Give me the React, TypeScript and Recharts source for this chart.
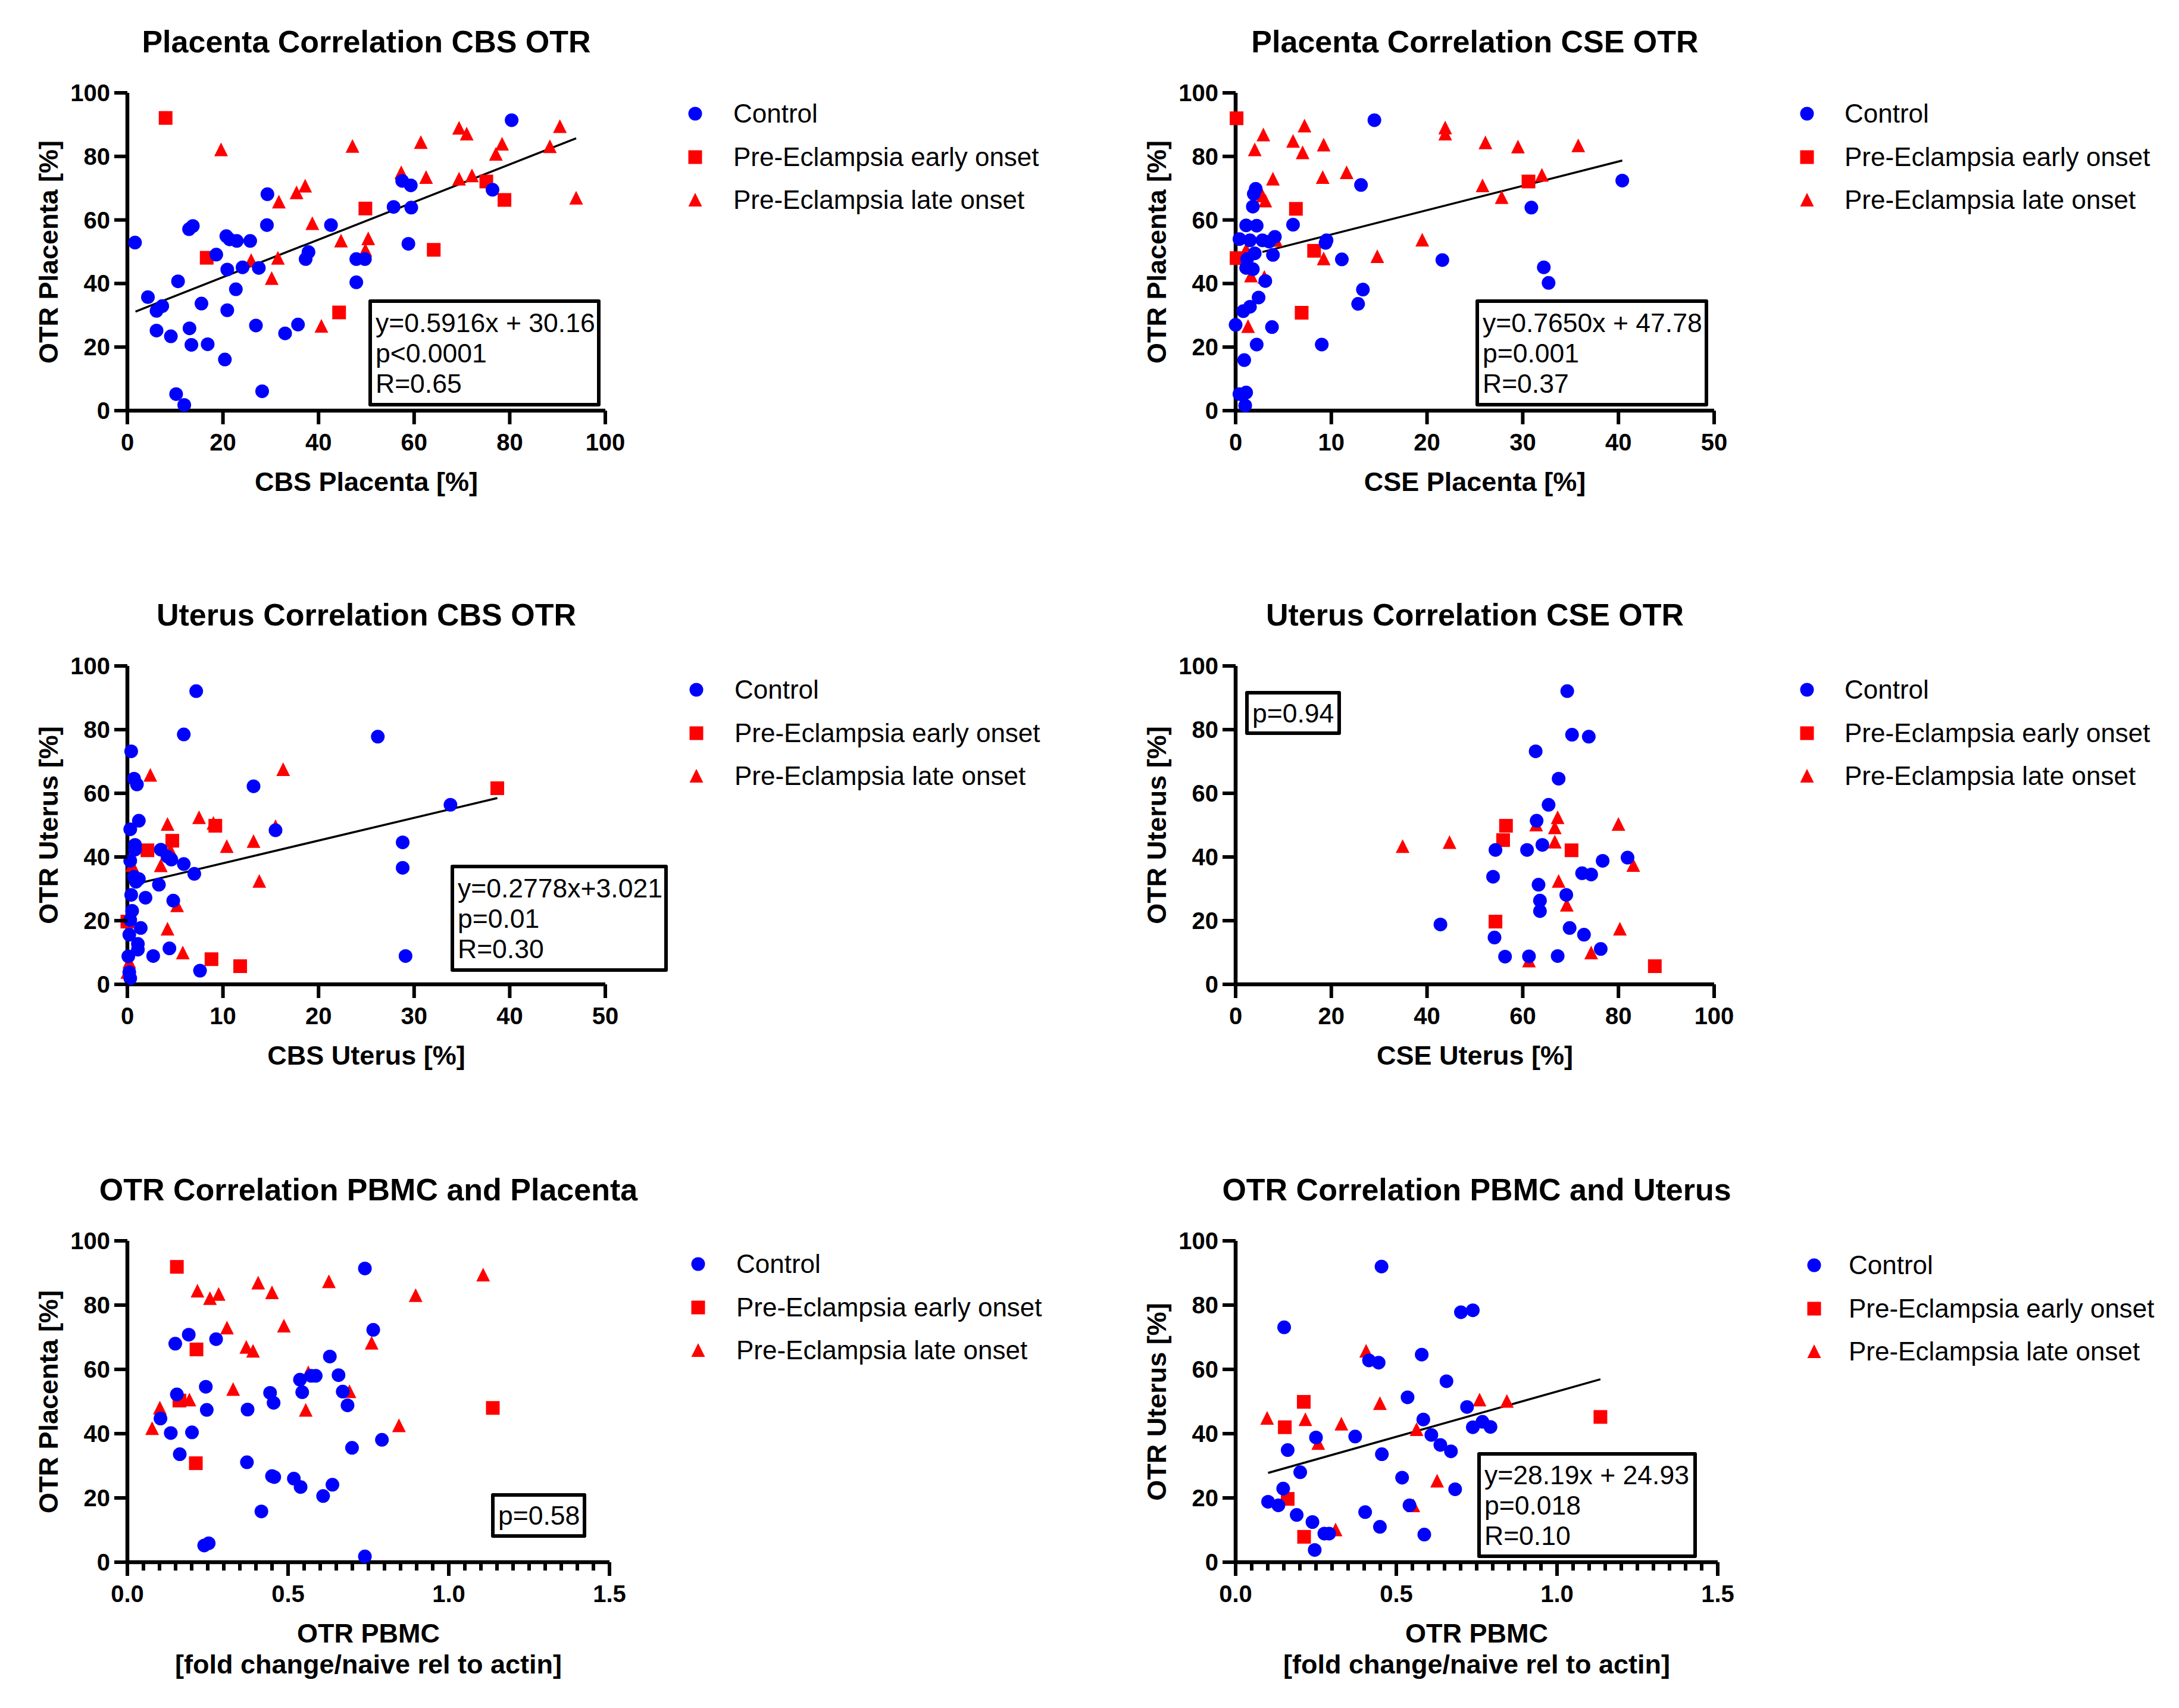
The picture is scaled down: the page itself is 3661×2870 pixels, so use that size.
import React from "react";
import { ScatterChart, Scatter, XAxis, YAxis, ReferenceLine } from "recharts";

const FONT = '"Liberation Sans", Arial, Helvetica, sans-serif';
const BLUE = "#0000ff";
const RED = "#ff0000";

type Pt = [number, number];

// Placenta, CBS vs OTR
const cbsPlacentaControl: Pt[] = [
  [1.6, 52.9], [4.3, 35.7], [6.1, 31.4], [7.3, 32.9], [6.1, 25.2], [9.1, 23.4], [10.6, 40.7], [10.2, 5.2],
  [11.9, 1.8], [12.9, 57.1], [13.7, 58.1], [13, 25.9], [13.4, 20.7], [15.5, 33.7], [16.8, 20.9], [18.6, 49.1],
  [20.4, 16.1], [20.7, 54.9], [21.4, 53.9], [22.9, 53.4], [25.7, 53.4], [20.9, 44.4], [20.9, 31.6], [22.7, 38.2],
  [24.1, 45.1], [27.5, 44.9], [26.9, 26.8], [28.2, 6.1], [29.3, 68.1], [29.2, 58.4], [33, 24.3], [35.7, 27.1],
  [37.3, 47.7], [37.9, 49.9], [42.6, 58.4], [47.9, 47.7], [49.7, 47.7], [47.9, 40.4], [55.7, 64.1], [57.5, 72.3],
  [59.3, 70.9], [59.4, 63.9], [58.8, 52.5], [76.4, 69.5], [80.4, 91.4],
];
const cbsPlacentaEarly: Pt[] = [
  [8, 92.1], [16.6, 48.1], [49.8, 63.6], [44.3, 30.9], [64.1, 50.6], [75.1, 72.1], [78.9, 66.3],
];
const cbsPlacentaLate: Pt[] = [
  [19.6, 82.1], [25.9, 47.3], [30.2, 41.6], [31.5, 48], [31.7, 65.7], [35.4, 68.6], [37.2, 70.7], [38.7, 58.9],
  [40.6, 26.6], [44.7, 53.4], [47.1, 83.2], [49.8, 50.5], [50.4, 54.1], [57.3, 74.9], [61.4, 84.4], [62.5, 73.4],
  [69.4, 88.9], [71, 87.1], [69.4, 72.9], [72.1, 73.9], [77.1, 80.7], [78.4, 83.9], [88.4, 83.1], [90.5, 89.4],
  [93.9, 66.9],
];

// Placenta, CSE vs OTR
const csePlacentaControl: Pt[] = [
  [14.5, 91.4], [13.1, 71], [40.4, 72.4], [30.9, 63.9], [2.1, 69.8], [1.9, 68.2], [1.8, 64.2], [1.1, 58.3],
  [2.2, 58.2], [6, 58.5], [0.4, 54], [1.5, 53.6], [2.8, 53.6], [3.5, 53.2], [4.1, 54.7], [2, 49.5], [3.9, 49],
  [9.4, 52.8], [9.5, 53.6], [11.1, 47.6], [21.6, 47.4], [1.2, 47.7], [1.1, 44.9], [1.8, 44.5], [32.2, 45.1],
  [32.7, 40.2], [3.1, 40.8], [13.3, 38.1], [12.8, 33.6], [2.4, 35.6], [1.5, 32.7], [0.8, 31.3], [0, 27],
  [3.8, 26.3], [2.2, 20.8], [9, 20.8], [0.9, 15.9], [0.4, 5.2], [1.1, 5.7], [1, 1.6],
];
const csePlacentaEarly: Pt[] = [[0.1, 92], [6.3, 63.5], [8.2, 50.3], [0.1, 48], [6.9, 30.8], [30.6, 72.1]];
const csePlacentaLate: Pt[] = [
  [2.9, 86.8], [2, 82.1], [7.2, 89.6], [6, 84.8], [7, 81.2], [9.2, 83.6], [3.9, 72.9], [9.1, 73.4], [11.6, 74.9],
  [3.1, 66], [2.8, 67.6], [4.2, 53.6], [1.1, 50.6], [9.2, 47.8], [14.8, 48.5], [19.5, 53.7], [1.6, 42.4], [3, 42],
  [1.3, 26.5], [21.9, 89], [21.9, 87.1], [25.8, 70.8], [27.8, 67.1], [32, 74.1], [26.1, 84.3], [29.5, 83],
  [35.8, 83.4],
];

// Uterus, CBS vs OTR
const cbsUterusControl: Pt[] = [
  [7.2, 92.1], [5.9, 78.5], [26.2, 77.8], [0.4, 73.2], [0.7, 64.6], [1, 62.8], [13.2, 62.2], [33.8, 56.4],
  [1.2, 51.4], [0.3, 48.7], [15.5, 48.4], [0.8, 43.8], [0.8, 42.3], [3.5, 42.3], [4.2, 40.1], [4.6, 39.2],
  [0.3, 38.8], [5.9, 37.8], [7, 34.7], [28.8, 44.6], [28.8, 36.6], [0.7, 33.8], [1.2, 33.1], [0.9, 32.2],
  [3.3, 31.3], [0.4, 28.1], [1.9, 27.2], [4.8, 26.3], [0.5, 23.1], [0.3, 20.2], [1.4, 17.7], [0.2, 15.6],
  [1.1, 12.7], [1.1, 10.9], [0.1, 8.8], [2.7, 8.9], [4.4, 11.3], [7.6, 4.3], [0.2, 3.8], [0.3, 1.9], [29.1, 8.9],
];
const cbsUterusEarly: Pt[] = [[38.7, 61.6], [9.2, 49.8], [4.7, 45.1], [2.1, 42.1], [0, 19.7], [8.8, 7.9], [11.8, 5.7]];
const cbsUterusLate: Pt[] = [
  [2.4, 65.7], [16.3, 67.5], [7.5, 52.4], [9, 50.6], [4.2, 50.3], [15.5, 49.6], [10.4, 43.3], [13.2, 44.9],
  [4.5, 42.1], [3.5, 37.3], [0.5, 37.4], [13.8, 32.4], [5.2, 24.7], [4.2, 17.4], [5.8, 9.9], [0.2, 7], [0, 3.8],
];

// Uterus, CSE vs OTR
const cseUterusControl: Pt[] = [
  [69.3, 92.1], [70.3, 78.4], [73.8, 77.8], [62.7, 73.2], [67.5, 64.6], [65.4, 56.4], [62.9, 51.4], [64.1, 43.8],
  [54.3, 42.2], [60.9, 42.2], [81.9, 39.8], [76.7, 38.8], [72.4, 34.9], [74.3, 34.5], [53.8, 33.8], [63.3, 31.3],
  [69.1, 28.1], [63.6, 26.3], [63.6, 23], [42.8, 18.8], [69.8, 17.7], [72.8, 15.6], [54.1, 14.7], [76.3, 11.1],
  [56.3, 8.7], [61.3, 8.8], [67.3, 8.9],
];
const cseUterusEarly: Pt[] = [[56.5, 49.8], [55.9, 45.3], [70.2, 42.1], [54.3, 19.7], [87.6, 5.7]];
const cseUterusLate: Pt[] = [
  [67.3, 52.4], [66.7, 49.2], [62.8, 50.1], [80, 50.3], [34.9, 43.3], [44.7, 44.6], [66.7, 44.7], [83.1, 37.4],
  [67.5, 32.4], [69.2, 24.9], [80.3, 17.4], [74.3, 9.9], [61.3, 7.4],
];

// PBMC vs placenta OTR
const pbmcPlacentaControl: Pt[] = [
  [0.739, 91.4], [0.765, 72.3], [0.149, 68], [0.191, 70.8], [0.276, 69.4], [0.63, 64], [0.657, 58.2],
  [0.537, 56.8], [0.572, 58], [0.586, 58], [0.244, 54.6], [0.154, 52.2], [0.444, 52.7], [0.544, 52.9],
  [0.455, 49.6], [0.67, 53.1], [0.685, 48.8], [0.247, 47.4], [0.374, 47.5], [0.103, 44.7], [0.135, 40.2],
  [0.201, 40.4], [0.792, 38.1], [0.699, 35.6], [0.163, 33.6], [0.372, 31.1], [0.45, 26.8], [0.457, 26.5],
  [0.518, 26], [0.539, 23.4], [0.638, 24.1], [0.609, 20.6], [0.417, 15.8], [0.239, 5.2], [0.253, 5.9],
  [0.739, 1.8],
];
const pbmcPlacentaEarly: Pt[] = [[0.154, 91.9], [0.215, 66.2], [0.162, 50.3], [0.213, 30.8], [1.137, 48]];
const pbmcPlacentaLate: Pt[] = [
  [1.107, 89.4], [0.627, 87.3], [0.407, 86.9], [0.218, 84.4], [0.257, 82.1], [0.284, 83.4], [0.45, 83.9],
  [0.897, 83], [0.487, 73.5], [0.31, 72.9], [0.37, 66.9], [0.391, 65.7], [0.76, 68.2], [0.563, 59],
  [0.329, 53.8], [0.691, 53.1], [0.193, 50.5], [0.101, 48], [0.555, 47.3], [0.077, 41.6], [0.845, 42.5],
];

// PBMC vs uterus OTR
const pbmcUterusControl: Pt[] = [
  [0.454, 92], [0.151, 73.1], [0.701, 77.8], [0.738, 78.4], [0.579, 64.6], [0.415, 62.8], [0.445, 62.1],
  [0.656, 56.3], [0.535, 51.3], [0.72, 48.3], [0.584, 44.4], [0.738, 42], [0.768, 43.7], [0.793, 42.1],
  [0.609, 39.6], [0.372, 39.1], [0.25, 38.8], [0.637, 36.5], [0.67, 34.5], [0.162, 34.9], [0.455, 33.6],
  [0.201, 28], [0.518, 26.3], [0.148, 22.9], [0.683, 22.7], [0.101, 18.8], [0.133, 17.7], [0.541, 17.7],
  [0.19, 14.7], [0.403, 15.6], [0.239, 12.5], [0.449, 11], [0.276, 8.9], [0.291, 8.9], [0.587, 8.6],
  [0.246, 3.8],
];
const pbmcUterusEarly: Pt[] = [[0.212, 49.9], [0.153, 42], [1.135, 45.2], [0.162, 19.7], [0.213, 7.9]];
const pbmcUterusLate: Pt[] = [
  [0.406, 65.7], [0.449, 49.4], [0.098, 44.8], [0.217, 44.4], [0.329, 43], [0.759, 50.5], [0.844, 50.1],
  [0.563, 41.3], [0.257, 37], [0.627, 25.3], [0.553, 17.6], [0.311, 10.1],
];

const yTicks = [0, 20, 40, 60, 80, 100];
const ticks100 = [0, 20, 40, 60, 80, 100];
const ticks50 = [0, 10, 20, 30, 40, 50];
const ticksPbmc = [0, 0.5, 1.0, 1.5];
const pbmcTickLabels = ["0.0", "0.5", "1.0", "1.5"];
const minorPbmc = Array.from({ length: 31 }, (_, i) => Math.round(i * 5) / 100);

const legendNames = ["Control", "Pre-Eclampsia early onset", "Pre-Eclampsia late onset"];

interface Trend {
  from: number;
  to: number;
  slope: number;
  intercept: number;
}

interface PanelDef {
  title: string;
  xLabel: string[];
  yLabel: string;
  control: Pt[];
  early: Pt[];
  late: Pt[];
  xMax: number;
  xTicks: number[];
  xTickLabels?: string[];
  minor?: number[];
  plot: { x0: number; x1: number; top: number; bottom: number };
  legend: { marker: number; text: number; y: number };
  trend?: Trend;
  stats: string[];
  box: { left: number; top: number; width: number; height: number };
}

const panels: PanelDef[] = [
  {
    title: "Placenta Correlation CBS OTR",
    xLabel: ["CBS Placenta [%]"],
    yLabel: "OTR Placenta [%]",
    control: cbsPlacentaControl,
    early: cbsPlacentaEarly,
    late: cbsPlacentaLate,
    xMax: 100,
    xTicks: ticks100,
    plot: { x0: 214, x1: 1017, top: 156, bottom: 690 },
    legend: { marker: 1168, text: 1232, y: 191 },
    trend: { from: 1.7, to: 93.9, slope: 0.5916, intercept: 30.16 },
    stats: ["y=0.5916x + 30.16", "p<0.0001", "R=0.65"],
    box: { left: 619, top: 503, width: 390, height: 180 },
  },
  {
    title: "Placenta Correlation CSE OTR",
    xLabel: ["CSE Placenta [%]"],
    yLabel: "OTR Placenta [%]",
    control: csePlacentaControl,
    early: csePlacentaEarly,
    late: csePlacentaLate,
    xMax: 50,
    xTicks: ticks50,
    plot: { x0: 2076, x1: 2880, top: 156, bottom: 690 },
    legend: { marker: 3036, text: 3099, y: 191 },
    trend: { from: 2.8, to: 40.4, slope: 0.765, intercept: 47.78 },
    stats: ["y=0.7650x + 47.78", "p=0.001", "R=0.37"],
    box: { left: 2479, top: 503, width: 391, height: 180 },
  },
  {
    title: "Uterus Correlation CBS OTR",
    xLabel: ["CBS Uterus [%]"],
    yLabel: "OTR Uterus [%]",
    control: cbsUterusControl,
    early: cbsUterusEarly,
    late: cbsUterusLate,
    xMax: 50,
    xTicks: ticks50,
    plot: { x0: 214, x1: 1017, top: 1119, bottom: 1654 },
    legend: { marker: 1170, text: 1234, y: 1159 },
    trend: { from: 1.1, to: 38.7, slope: 0.713, intercept: 30.9 },
    stats: ["y=0.2778x+3.021", "p=0.01", "R=0.30"],
    box: { left: 757, top: 1453, width: 365, height: 180 },
  },
  {
    title: "Uterus Correlation CSE OTR",
    xLabel: ["CSE Uterus [%]"],
    yLabel: "OTR Uterus [%]",
    control: cseUterusControl,
    early: cseUterusEarly,
    late: cseUterusLate,
    xMax: 100,
    xTicks: ticks100,
    plot: { x0: 2076, x1: 2880, top: 1119, bottom: 1654 },
    legend: { marker: 3036, text: 3099, y: 1159 },
    stats: ["p=0.94"],
    box: { left: 2092, top: 1161, width: 161, height: 74 },
  },
  {
    title: "OTR Correlation PBMC and Placenta",
    xLabel: ["OTR PBMC", "[fold change/naive rel to actin]"],
    yLabel: "OTR Placenta [%]",
    control: pbmcPlacentaControl,
    early: pbmcPlacentaEarly,
    late: pbmcPlacentaLate,
    xMax: 1.5,
    xTicks: ticksPbmc,
    xTickLabels: pbmcTickLabels,
    minor: minorPbmc,
    plot: { x0: 214, x1: 1024, top: 2085, bottom: 2625 },
    legend: { marker: 1173, text: 1237, y: 2124 },
    stats: ["p=0.58"],
    box: { left: 825, top: 2509, width: 160, height: 75 },
  },
  {
    title: "OTR Correlation PBMC and Uterus",
    xLabel: ["OTR PBMC", "[fold change/naive rel to actin]"],
    yLabel: "OTR Uterus [%]",
    control: pbmcUterusControl,
    early: pbmcUterusEarly,
    late: pbmcUterusLate,
    xMax: 1.5,
    xTicks: ticksPbmc,
    xTickLabels: pbmcTickLabels,
    minor: minorPbmc,
    plot: { x0: 2076, x1: 2886, top: 2085, bottom: 2625 },
    legend: { marker: 3048, text: 3106, y: 2126 },
    trend: { from: 0.101, to: 1.135, slope: 28.19, intercept: 24.93 },
    stats: ["y=28.19x + 24.93", "p=0.018", "R=0.10"],
    box: { left: 2482, top: 2440, width: 369, height: 178 },
  },
];

const toData = (pts: Pt[]) => pts.map(([x, y]) => ({ x, y }));

const Dot = (props: any) => <circle cx={props.cx} cy={props.cy} r={11.5} fill={BLUE} />;
const Square = (props: any) => (
  <rect x={props.cx - 11.5} y={props.cy - 11.5} width={23} height={23} fill={RED} />
);
const Tri = (props: any) => (
  <polygon
    points={`${props.cx},${props.cy - 12} ${props.cx - 11.5},${props.cy + 11} ${props.cx + 11.5},${props.cy + 11}`}
    fill={RED}
  />
);

function HText({ x, y, size, bold, anchor = "middle", children, rotate }: any) {
  const lh = Math.round(size * 1.18);
  const centered = anchor === "middle";
  return (
    <div
      style={{
        position: "absolute",
        left: centered ? x - 1000 : x,
        top: y - lh / 2,
        width: centered ? 2000 : undefined,
        height: lh,
        lineHeight: `${lh}px`,
        textAlign: centered ? "center" : "left",
        fontFamily: FONT,
        fontSize: size,
        fontWeight: bold ? 700 : 400,
        whiteSpace: "nowrap",
        color: "#000",
        transform: rotate ? `rotate(${rotate}deg)` : undefined,
      }}
    >
      {children}
    </div>
  );
}

function LegendMarker({ kind, x, y }: { kind: number; x: number; y: number }) {
  return (
    <svg
      width={30}
      height={30}
      style={{ position: "absolute", left: x - 15, top: y - 15, overflow: "visible" }}
    >
      {kind === 0 && <circle cx={15} cy={15} r={11.5} fill={BLUE} />}
      {kind === 1 && <rect x={3.5} y={3.5} width={23} height={23} fill={RED} />}
      {kind === 2 && <polygon points="15,3 3.5,26 26.5,26" fill={RED} />}
    </svg>
  );
}

function Panel({ p }: { p: PanelDef }) {
  const { x0, x1, top, bottom } = p.plot;
  const padL = 200;
  const padT = 150;
  const padR = 40;
  const padB = 100;
  const w = x1 - x0 + padL + padR;
  const h = bottom - top + padT + padB;
  const xTickList = p.minor ?? p.xTicks;
  const cx = (x0 + x1) / 2;
  const cy = (top + bottom) / 2;

  const isMajor = (v: number) => p.xTicks.some((t) => Math.abs(t - v) < 1e-6);
  const labelFor = (v: number) => {
    const i = p.xTicks.findIndex((t) => Math.abs(t - v) < 1e-6);
    if (i < 0) return "";
    return p.xTickLabels ? p.xTickLabels[i] : String(p.xTicks[i]);
  };

  const XTick = (t: any) => {
    const v = t.payload.value;
    const major = isMajor(v);
    return (
      <g>
        <line x1={t.x} x2={t.x} y1={t.y} y2={t.y + (major ? 23 : 14)} stroke="#000" strokeWidth={6} />
        {major && (
          <text
            x={t.x}
            y={t.y + 53}
            textAnchor="middle"
            dominantBaseline="central"
            fontFamily={FONT}
            fontWeight={700}
            fontSize={40}
            fill="#000"
          >
            {labelFor(v)}
          </text>
        )}
      </g>
    );
  };

  const YTick = (t: any) => (
    <g>
      <line x1={t.x} x2={t.x - 22} y1={t.y} y2={t.y} stroke="#000" strokeWidth={6} />
      <text
        x={t.x - 29}
        y={t.y}
        textAnchor="end"
        dominantBaseline="central"
        fontFamily={FONT}
        fontWeight={700}
        fontSize={40}
        fill="#000"
      >
        {t.payload.value}
      </text>
    </g>
  );

  return (
    <>
      <div style={{ position: "absolute", left: x0 - padL, top: top - padT }}>
        <ScatterChart
          width={w}
          height={h}
          margin={{ top: padT, right: padR, bottom: padB - 60, left: padL - 100 }}
        >
          <XAxis
            type="number"
            dataKey="x"
            domain={[0, p.xMax]}
            ticks={xTickList}
            interval={0}
            height={60}
            tickSize={0}
            tickMargin={0}
            tickLine={false}
            axisLine={{ stroke: "#000", strokeWidth: 6.5 }}
            tick={XTick}
          />
          <YAxis
            type="number"
            dataKey="y"
            domain={[0, 100]}
            ticks={yTicks}
            interval={0}
            width={100}
            tickSize={0}
            tickMargin={0}
            tickLine={false}
            axisLine={{ stroke: "#000", strokeWidth: 6.5 }}
            tick={YTick}
          />
          <Scatter data={toData(p.late)} shape={Tri} isAnimationActive={false} />
          <Scatter data={toData(p.early)} shape={Square} isAnimationActive={false} />
          <Scatter data={toData(p.control)} shape={Dot} isAnimationActive={false} />
          {p.trend && (
            <ReferenceLine
              segment={[
                { x: p.trend.from, y: p.trend.slope * p.trend.from + p.trend.intercept },
                { x: p.trend.to, y: p.trend.slope * p.trend.to + p.trend.intercept },
              ]}
              stroke="#000"
              strokeWidth={3.5}
            />
          )}
        </ScatterChart>
      </div>

      <HText x={cx} y={top - 86} size={52} bold>
        {p.title}
      </HText>
      {p.xLabel.map((s, i) => (
        <HText key={s} x={cx} y={bottom + 119 + i * 52} size={45} bold>
          {s}
        </HText>
      ))}
      <HText x={x0 - 133} y={cy} size={45} bold rotate={-90}>
        {p.yLabel}
      </HText>

      {legendNames.map((name, i) => (
        <React.Fragment key={name}>
          <LegendMarker kind={i} x={p.legend.marker} y={p.legend.y + i * 72.5} />
          <HText x={p.legend.text} y={p.legend.y + i * 72.5} size={44} anchor="start">
            {name}
          </HText>
        </React.Fragment>
      ))}

      <div
        style={{
          position: "absolute",
          left: p.box.left,
          top: p.box.top,
          width: p.box.width,
          height: p.box.height,
          border: "6px solid #000",
          borderRadius: 3,
          boxSizing: "border-box",
          display: "flex",
          flexDirection: "column",
          justifyContent: "center",
          paddingLeft: 6,
          fontFamily: FONT,
          fontSize: 44.5,
          color: "#000",
        }}
      >
        {p.stats.map((s) => (
          <div key={s} style={{ lineHeight: "51px", whiteSpace: "nowrap" }}>
            {s}
          </div>
        ))}
      </div>
    </>
  );
}

export default function App() {
  return (
    <div
      style={{
        position: "absolute",
        left: 0,
        top: 0,
        width: 3661,
        height: 2870,
        background: "#fff",
        overflow: "hidden",
      }}
    >
      {panels.map((p) => (
        <Panel key={p.title} p={p} />
      ))}
    </div>
  );
}
